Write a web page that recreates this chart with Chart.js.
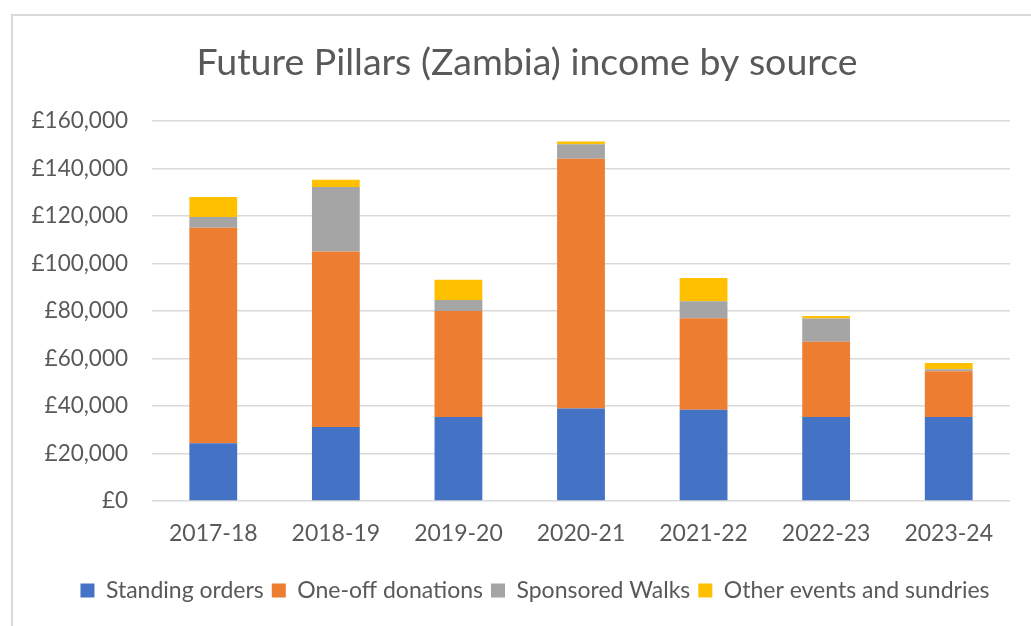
<!DOCTYPE html>
<html>
<head>
<meta charset="utf-8">
<script src="https://cdn.jsdelivr.net/npm/chart.js@4/dist/chart.umd.min.js"></script>
<style>
  html, body { margin: 0; padding: 0; background: #fff; overflow: hidden; }
  #frame { position: absolute; left: 11px; top: 14px; width: 1100px; height: 700px;
           border-top: 2px solid #d9d9d9; border-left: 2px solid #d9d9d9; }
  #wrap { position: absolute; left: 0; top: 0; width: 1031px; height: 626px; }
</style>
</head>
<body>
<div id="frame"></div>
<div id="wrap"><canvas id="incomeChart"></canvas></div>
<script>
// Datos
const years = ['2017-18', '2018-19', '2019-20', '2020-21', '2021-22', '2022-23', '2023-24'];
const standingOrders = [24300, 31200, 35400, 39000, 38400, 35400, 35400];
const oneOffDonations = [90800, 73900, 44600, 105100, 38500, 31700, 19200];
const sponsoredWalks = [4500, 27100, 4600, 6100, 7200, 9700, 900];
const otherEvents = [8400, 3100, 8600, 1200, 9800, 1100, 2600];
const yTicks = [0, 20000, 40000, 60000, 80000, 100000, 120000, 140000, 160000];

const txt = '#595959';
const fam = "Lato, 'Open Sans', sans-serif";

// el titulo y la leyenda van un poco mas a la derecha que el centro del lienzo
const shiftBlocks = {
  id: 'shiftBlocks',
  afterLayout(chart) {
    chart.titleBlock.left = 44;
    chart.legend.left = 60;
  }
};

new Chart(document.getElementById('incomeChart'), {
  type: 'bar',
  data: {
    labels: years,
    datasets: [
      { label: 'Standing orders', data: standingOrders, backgroundColor: '#4472c4' },
      { label: 'One-off donations', data: oneOffDonations, backgroundColor: '#ed7d31' },
      { label: 'Sponsored Walks', data: sponsoredWalks, backgroundColor: '#a5a5a5' },
      { label: 'Other events and sundries', data: otherEvents, backgroundColor: '#ffc000' }
    ]
  },
  options: {
    responsive: true,
    maintainAspectRatio: false,
    animation: false,
    layout: { padding: { top: 12, left: 12, right: 21, bottom: 14 } },
    datasets: { bar: { categoryPercentage: 1, barPercentage: 0.39 } },
    scales: {
      x: {
        stacked: true,
        grid: { display: false },
        border: { display: false },
        ticks: { color: txt, font: { family: fam, size: 23 }, padding: 11 },
        afterFit: s => { s.height = 70; }
      },
      y: {
        stacked: true,
        min: 0, max: 160000,
        afterBuildTicks: s => { s.ticks = yTicks.map(v => ({ value: v })); },
        grid: { color: '#d9d9d9', lineWidth: 1.5, drawTicks: false },
        border: { display: false },
        ticks: {
          color: txt, font: { family: fam, size: 22.5 }, padding: 24,
          callback: v => '£' + v.toLocaleString('en-GB')
        },
        afterFit: s => { s.width = 140; }
      }
    },
    plugins: {
      title: {
        display: true,
        text: 'Future Pillars (Zambia) income by source',
        color: txt,
        font: { family: fam, size: 37.5, weight: 'normal' },
        padding: { top: 28, bottom: 36 }
      },
      legend: {
        position: 'bottom',
        labels: {
          color: txt, font: { family: fam, size: 23 },
          boxWidth: 14, boxHeight: 14, padding: 8
        }
      },
      tooltip: { enabled: false }
    }
  },
  plugins: [shiftBlocks]
});
</script>
</body>
</html>
